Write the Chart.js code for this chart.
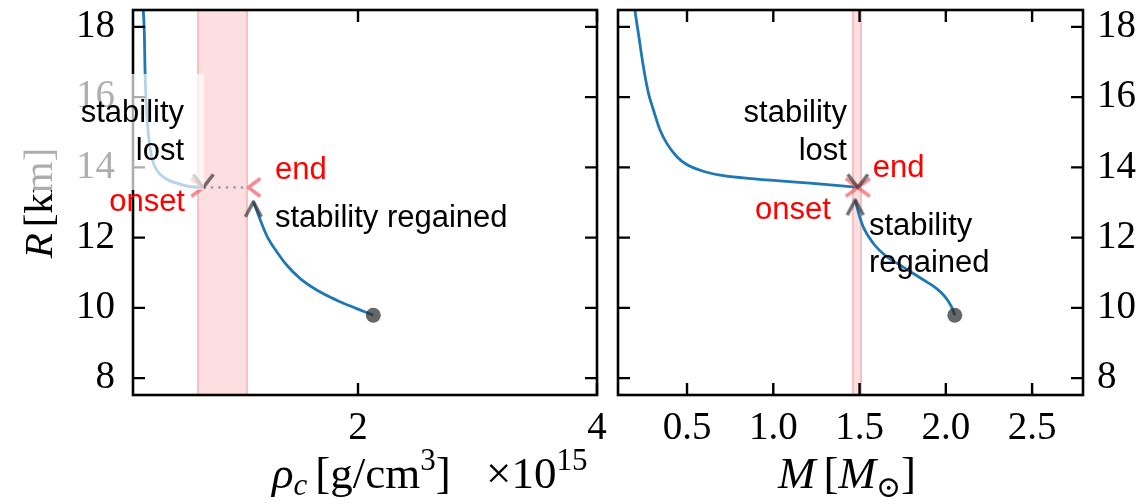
<!DOCTYPE html>
<html><head><meta charset="utf-8">
<script src="https://cdn.jsdelivr.net/npm/chart.js@4"></script>
<style>
html,body{margin:0;padding:0;background:#fff;width:1138px;height:504px;overflow:hidden}
canvas{position:absolute;top:0}
#c1{left:0}
#c2{left:607px}
</style></head><body>
<canvas id="c1" width="607" height="504"></canvas>
<canvas id="c2" width="531" height="504"></canvas>
<script>
// ---- tick values ----
const yTicks = [8, 10, 12, 14, 16, 18];
const xTicksLeft = [2, 4];
const xTicksRight = [0.5, 1.0, 1.5, 2.0, 2.5];

// ---- left panel: R [km] vs central density [1e15 g/cm^3] ----
const rhoUpper = [0.200, 0.203, 0.212, 0.217, 0.226, 0.245, 0.273, 0.315, 0.385, 0.483, 0.594, 0.705];
const rUpperLeft = [18.70, 18.48, 17.82, 16.86, 15.92, 14.97, 14.30, 13.93, 13.69, 13.55, 13.45, 13.43];
const rhoLower = [1.124, 1.152, 1.194, 1.249, 1.320, 1.403, 1.514, 1.654, 1.821, 1.989, 2.128];
const rLowerLeft = [13.02, 12.78, 12.40, 11.97, 11.60, 11.22, 10.84, 10.51, 10.22, 9.98, 9.79];
const onsetLeft = [0.705, 13.43];
const endLeft = [1.082, 13.43];
const lostLeft = [0.705, 13.43];
const regainedLeft = [1.124, 13.02];
const bandLeft = [0.653, 1.079];

// ---- right panel: R [km] vs mass [Msun] ----
const massUpper = [0.193, 0.198, 0.218, 0.247, 0.276, 0.305, 0.343, 0.382, 0.440, 0.498, 0.594, 0.691, 0.826, 1.019, 1.212, 1.490];
const rUpperRight = [18.70, 18.48, 17.82, 16.87, 16.12, 15.64, 15.07, 14.69, 14.31, 14.08, 13.89, 13.78, 13.70, 13.62, 13.55, 13.43];
const massLower = [1.475, 1.492, 1.521, 1.579, 1.657, 1.734, 1.811, 1.889, 1.947, 1.995, 2.033, 2.052];
const rLowerRight = [13.07, 12.74, 12.31, 11.84, 11.46, 11.22, 10.98, 10.74, 10.55, 10.32, 10.03, 9.79];
const onsetRight = [1.490, 13.43];
const endRight = [1.490, 13.43];
const lostRight = [1.490, 13.43];
const regainedRight = [1.475, 13.07];
const bandRight = [1.456, 1.514];

// ---- annotation texts (anchored in data coordinates) ----
const annoLeft = [
  {text:'stability', x:0.544, y:15.29, align:'right', color:'#000'},
  {text:'lost', x:0.544, y:14.21, align:'right', color:'#000'},
  {text:'onset', x:0.552, y:12.76, align:'right', color:'#ff0000'},
  {text:'end', x:1.305, y:13.67, align:'left', color:'#ff0000'},
  {text:'stability regained', x:1.305, y:12.30, align:'left', color:'#000'}
];
const annoRight = [
  {text:'stability', x:1.427, y:15.29, align:'right', color:'#000'},
  {text:'lost', x:1.427, y:14.21, align:'right', color:'#000'},
  {text:'end', x:1.577, y:13.73, align:'left', color:'#ff0000'},
  {text:'onset', x:1.334, y:12.53, align:'right', color:'#ff0000'},
  {text:'stability', x:1.554, y:12.07, align:'left', color:'#000'},
  {text:'regained', x:1.554, y:11.02, align:'left', color:'#000'}
];

const SERIF = "'Liberation Serif','DejaVu Serif',serif";
const SANS = "'Liberation Sans',Arial,sans-serif";
const BLUE = '#1f77b4';

function pts(xs, ys){ return xs.map((x,i)=>({x:x, y:ys[i]})); }

function chevron(dir, dx, dy, color, lw){
  const m = Math.max(dx, dy) + lw + 2;
  const c = document.createElement('canvas');
  c.width = 2*m; c.height = 2*m;
  const g = c.getContext('2d');
  g.strokeStyle = color; g.lineWidth = lw; g.lineJoin = 'round'; g.lineCap = 'butt';
  let p;
  if (dir === 'down') p = [[m-dx,m-dy],[m,m],[m+dx,m-dy]];
  if (dir === 'up') p = [[m-dx,m+dy],[m,m],[m+dx,m+dy]];
  if (dir === 'right') p = [[m-dx,m-dy],[m,m],[m-dx,m+dy]];
  if (dir === 'left') p = [[m+dx,m-dy],[m,m],[m+dx,m+dy]];
  g.beginPath(); g.moveTo(p[0][0],p[0][1]); g.lineTo(p[1][0],p[1][1]); g.lineTo(p[2][0],p[2][1]); g.stroke();
  return c;
}
const PINK = 'rgba(240,95,105,0.72)', GRAY = 'rgba(55,55,55,0.72)';
const mkRight = chevron('right', 12, 9, PINK, 3.5);
const mkLeft = chevron('left', 12, 9, PINK, 3.5);
const mkDown = chevron('down', 10, 13, GRAY, 3.5);
const mkUp = chevron('up', 8, 15, GRAY, 3.5);

function markerDs(p, img){
  return {data:[{x:p[0], y:p[1]}], showLine:false, pointStyle:img, pointRadius:5, pointHoverRadius:5, borderWidth:0};
}
function lineDs(d, extra){
  return Object.assign({data:d, borderColor:BLUE, borderWidth:2.8, pointRadius:0, cubicInterpolationMode:'monotone', fill:false}, extra||{});
}

function drawRuns(ctx, x, y, runs, align){
  let total = 0;
  runs.forEach(r => { ctx.font = r.font; total += ctx.measureText(r.t).width + (r.gap||0); });
  let cx = align === 'center' ? x - total/2 : (align === 'right' ? x - total : x);
  ctx.textAlign = 'left'; ctx.textBaseline = 'alphabetic';
  runs.forEach(r => { ctx.font = r.font; ctx.fillText(r.t, cx, y + (r.dy||0)); cx += ctx.measureText(r.t).width + (r.gap||0); });
}

function makePlugin(cfg){
  return {
    id:'custom',
    beforeDatasetsDraw(chart){
      const ctx = chart.ctx, a = chart.chartArea, xs = chart.scales.x;
      const x0 = xs.getPixelForValue(cfg.band[0]), x1 = xs.getPixelForValue(cfg.band[1]);
      ctx.save();
      ctx.fillStyle = 'rgba(250,150,155,0.30)';
      ctx.fillRect(x0, a.top, x1-x0, a.bottom-a.top);
      ctx.strokeStyle = 'rgba(240,120,130,0.30)'; ctx.lineWidth = 2;
      ctx.beginPath(); ctx.moveTo(x0+1, a.top); ctx.lineTo(x0+1, a.bottom); ctx.moveTo(x1-1, a.top); ctx.lineTo(x1-1, a.bottom); ctx.stroke();
      ctx.restore();
    },
    afterDraw(chart){
      const ctx = chart.ctx, a = chart.chartArea, xs = chart.scales.x, ys = chart.scales.y;
      ctx.save();
      ctx.strokeStyle = '#000'; ctx.lineWidth = 2.6;
      ctx.strokeRect(a.left, a.top, a.right-a.left, a.bottom-a.top);
      const TL = 12;
      ctx.lineWidth = 2.4; ctx.beginPath();
      cfg.xTicks.forEach(v => { const p = xs.getPixelForValue(v);
        ctx.moveTo(p, a.bottom); ctx.lineTo(p, a.bottom-TL); ctx.moveTo(p, a.top); ctx.lineTo(p, a.top+TL); });
      yTicks.forEach(v => { const p = ys.getPixelForValue(v);
        ctx.moveTo(a.left, p); ctx.lineTo(a.left+TL, p); ctx.moveTo(a.right, p); ctx.lineTo(a.right-TL, p); });
      ctx.stroke();
      ctx.fillStyle = '#000';
      cfg.titles(ctx, a);
      if (cfg.overlay){ ctx.fillStyle = 'rgba(255,255,255,0.68)'; ctx.fillRect(cfg.overlay[0], cfg.overlay[1], cfg.overlay[2], cfg.overlay[3]); }
      ctx.textBaseline = 'alphabetic';
      ctx.font = '31px ' + SANS;
      cfg.anno.forEach(t => {
        ctx.fillStyle = t.color; ctx.textAlign = t.align;
        ctx.fillText(t.text, xs.getPixelForValue(t.x), ys.getPixelForValue(t.y));
      });
      ctx.restore();
    }
  };
}

function yScale(position, width, pad){
  return {type:'linear', position:position, min:7.52, max:18.48,
    afterBuildTicks: s => { s.ticks = yTicks.map(v => ({value:v})); },
    ticks:{font:{family:SERIF, size:39}, color:'#000', padding:pad, callback: v => String(v)},
    grid:{display:false, drawTicks:false}, border:{display:false},
    afterFit: s => { s.width = width; s.paddingTop = 0; s.paddingBottom = 0; s.paddingLeft = 0; s.paddingRight = 0; }
  };
}
function xScale(min, max, ticks, fmt){
  return {type:'linear', position:'bottom', min:min, max:max,
    afterBuildTicks: s => { s.ticks = ticks.map(v => ({value:v})); },
    ticks:{font:{family:SERIF, size:39}, color:'#000', padding:10, maxRotation:0, autoSkip:false, callback: fmt},
    grid:{display:false, drawTicks:false}, border:{display:false},
    afterFit: s => { s.height = 109; s.paddingTop = 0; s.paddingBottom = 0; s.paddingLeft = 0; s.paddingRight = 0; }
  };
}

const common = {responsive:false, animation:false, plugins:{legend:{display:false}, tooltip:{enabled:false}}, events:[]};

// ---- left chart ----
new Chart(document.getElementById('c1'), {
  type:'line',
  data:{datasets:[
    markerDs(lostLeft, mkDown),
    markerDs(regainedLeft, mkUp),
    markerDs(onsetLeft, mkRight),
    markerDs(endLeft, mkLeft),
    {data:[{x:rhoLower[rhoLower.length-1], y:rLowerLeft[rLowerLeft.length-1]}], showLine:false, pointRadius:7.5, backgroundColor:'rgba(45,45,45,0.72)', borderWidth:0},
    lineDs([{x:onsetLeft[0], y:onsetLeft[1]}, {x:endLeft[0], y:endLeft[1]}], {borderColor:'rgba(120,135,175,0.75)', borderDash:[2.5,5], borderWidth:2.5, cubicInterpolationMode:'default', tension:0}),
    lineDs(pts(rhoLower, rLowerLeft)),
    lineDs(pts(rhoUpper, rUpperLeft))
  ]},
  options:Object.assign({}, common, {
    layout:{padding:{top:10, right:10, left:0, bottom:0}},
    scales:{x:xScale(0.117, 4, xTicksLeft, v => String(v)), y:yScale('left', 133, 18)}
  }),
  plugins:[makePlugin({band:bandLeft, xTicks:xTicksLeft, anno:annoLeft, overlay:[0,74,204,116],
    titles:(ctx, a) => {
      ctx.save(); ctx.translate(52, 203); ctx.rotate(-Math.PI/2);
      drawRuns(ctx, 0, 0, [{t:'R', font:'italic 41px '+SERIF, gap:6}, {t:'[km]', font:'41px '+SERIF}], 'center');
      ctx.restore();
      drawRuns(ctx, 272, 488, [
        {t:'ρ', font:'italic 45px '+SERIF}, {t:'c', font:'italic 31px '+SERIF, dy:7, gap:8},
        {t:'[g/cm', font:'45px '+SERIF}, {t:'3', font:'31px '+SERIF, dy:-18}, {t:']', font:'45px '+SERIF}], 'left');
      drawRuns(ctx, 486, 488, [{t:'×10', font:'45px '+SERIF}, {t:'15', font:'31px '+SERIF, dy:-18}], 'left');
    }})]
});

// ---- right chart ----
new Chart(document.getElementById('c2'), {
  type:'line',
  data:{datasets:[
    markerDs(lostRight, mkDown),
    markerDs(regainedRight, mkUp),
    markerDs(onsetRight, mkRight),
    markerDs(endRight, mkLeft),
    {data:[{x:massLower[massLower.length-1], y:rLowerRight[rLowerRight.length-1]}], showLine:false, pointRadius:7.5, backgroundColor:'rgba(45,45,45,0.72)', borderWidth:0},
    lineDs(pts(massLower, rLowerRight)),
    lineDs(pts(massUpper, rUpperRight))
  ]},
  options:Object.assign({}, common, {
    layout:{padding:{top:10, right:0, left:11, bottom:0}},
    scales:{x:xScale(0.1, 2.795, xTicksRight, v => Number(v).toFixed(1)), y:yScale('right', 55, 14)}
  }),
  plugins:[makePlugin({band:bandRight, xTicks:xTicksRight, anno:annoRight, overlay:null,
    titles:(ctx, a) => {
      drawRuns(ctx, 778 - 607, 488, [
        {t:'M', font:'italic 45px '+SERIF, gap:8}, {t:'[', font:'45px '+SERIF}, {t:'M', font:'italic 45px '+SERIF},
        {t:'⊙', font:'30px '+"'DejaVu Serif',serif", dy:9}, {t:']', font:'45px '+SERIF}], 'left');
    }})]
});
</script>
</body></html>
